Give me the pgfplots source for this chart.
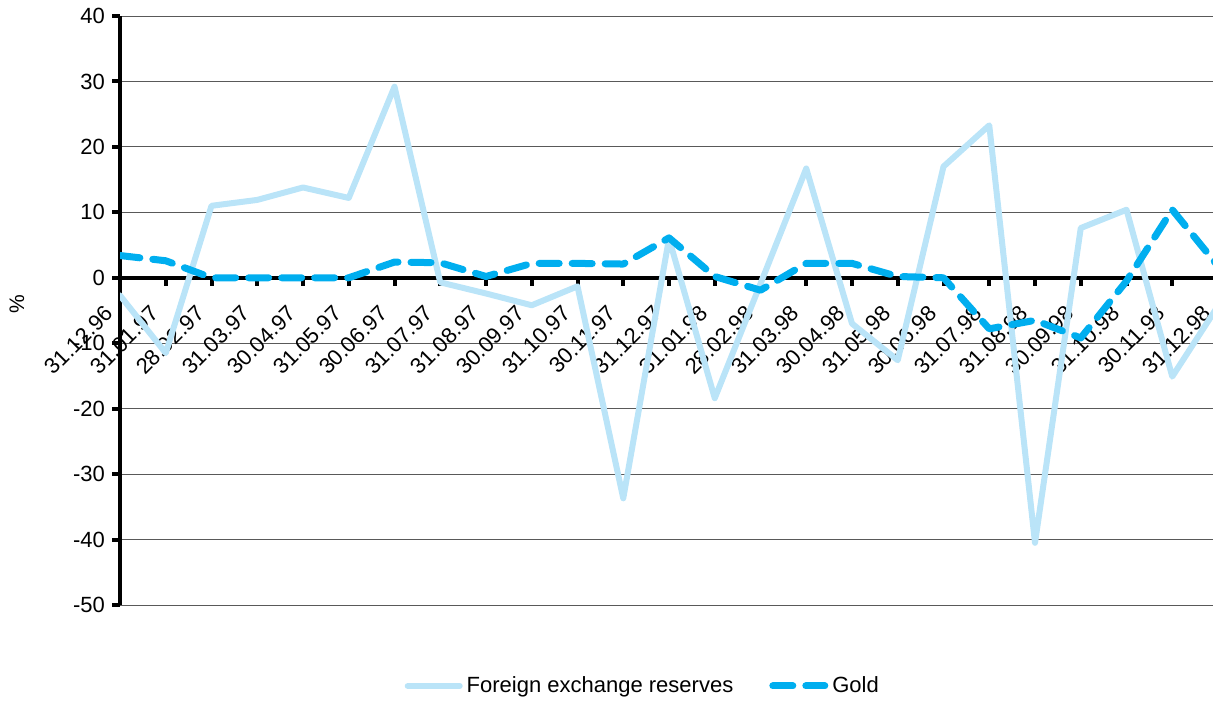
\documentclass[border=0pt]{standalone}
\usepackage{fontspec}
\setmainfont{Liberation Sans}
\usepackage{pgfplots}
\pgfplotsset{compat=1.18}
\definecolor{fxblue}{RGB}{186,228,248}
\definecolor{goldblue}{RGB}{0,174,239}

\pgfplotstableread{
k fx gold
0 -2.7 3.4
1 -11.5 2.6
2 11.0 0.0
3 11.9 0.0
4 13.8 0.0
5 12.2 0.0
6 29.2 2.4
7 -0.7 2.3
8 -2.4 0.2
9 -4.2 2.2
10 -1.3 2.2
11 -33.7 2.1
12 6.0 6.1
13 -18.4 0.2
14 -0.9 -1.9
15 16.7 2.2
16 -7.0 2.2
17 -12.6 0.2
18 17.0 0.0
19 23.3 -7.8
20 -40.5 -6.5
21 7.6 -9.2
22 10.4 -0.5
23 -15.1 10.4
24 -4.3 1.8
}\reserves

\begin{document}
\begin{tikzpicture}
\begin{axis}[
  set layers,
  at={(0,0)}, anchor=south west,
  scale only axis,
  width=549pt, height=294.5pt,
  xmin=0, xmax=24, ymin=-50, ymax=40,
  axis x line=middle, axis y line=left,
  axis line style={-, line width=2.2pt, black},
  hide obscured x ticks=false, hide obscured y ticks=false,
  xtick={0,...,24},
  xticklabels={31.12.96,31.01.97,28.02.97,31.03.97,30.04.97,31.05.97,30.06.97,31.07.97,31.08.97,30.09.97,31.10.97,30.11.97,31.12.97,31.01.98,28.02.98,31.03.98,30.04.98,31.05.98,30.06.98,31.07.98,31.08.98,30.09.98,31.10.98,30.11.98,31.12.98},
  ytick={-50,-40,...,40},
  yticklabels={-50,-40,-30,-20,-10,0,10,20,30,40},
  tick align=outside,
  major tick length=4pt,
  tick style={line width=2pt, black},
  ymajorgrids,
  grid style={line width=0.5pt, black!65},
  ticklabel style={font=\fontsize{11}{13}\selectfont},
  xticklabel style={xshift=-3pt, yshift=-9.5pt, rotate=45, anchor=east},
  ylabel={\%},
  every axis y label/.style={at={(axis description cs:-0.094,0.51)}, rotate=90, anchor=center, font=\fontsize{10.5}{12}\selectfont},
  legend style={at={(axis description cs:0.477,-0.1375)}, anchor=center, draw=none, fill=none,
    legend columns=2, font=\fontsize{11}{13}\selectfont,
    /tikz/every even column/.append style={column sep=16pt},
    /tikz/every odd column/.append style={column sep=0pt}},
  legend image code/.code={\draw[#1] (0pt,0pt) -- (26pt,0pt);},
]
\addplot[fxblue, line width=3pt, line join=round, line cap=round] table[x=k, y=fx] {\reserves};
\addlegendentry{Foreign exchange reserves}
\addplot[goldblue, line width=3.5pt, line cap=round, line join=round, dash pattern=on 10pt off 6.5pt] table[x=k, y=gold] {\reserves};
\addlegendentry{Gold}
\end{axis}
\pgfresetboundingbox
\path[use as bounding box] (-60pt,-48pt) rectangle (546.5pt,302.5pt);
\end{tikzpicture}
\end{document}
